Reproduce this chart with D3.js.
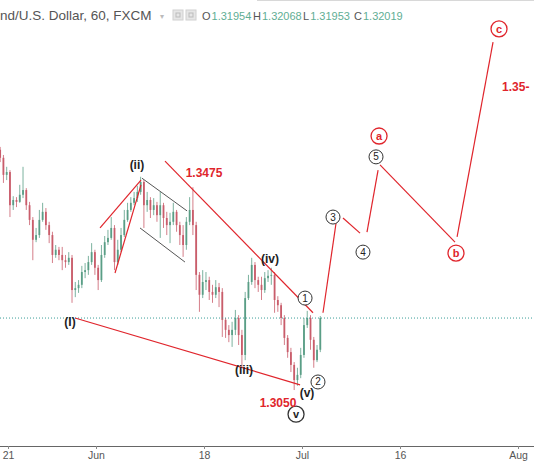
<!DOCTYPE html>
<html><head><meta charset="utf-8">
<script src="https://cdn.jsdelivr.net/npm/d3@7"></script>
<style>html,body{margin:0;padding:0;background:#fff;overflow:hidden}</style>
</head><body>
<svg id="c" width="534" height="462"></svg>
<script>
// ---- axis categories (trading-day index) ----
const tickLabels = ["21", "Jun", "18", "Jul", "16", "Aug"];
const tickDays   = [0, 9, 20, 30, 40, 52];

// ---- 8-hour candles: closes, highs, lows (open = previous close) ----
const firstOpen = 1.3557;
const closes = [
 1.3540,1.3504,1.3510,1.3440,1.3451,1.3447,1.3462,1.3472,1.3440,1.3409,
 1.3367,1.3377,1.3409,1.3426,1.3398,1.3377,1.3335,1.3346,1.3335,1.3324,
 1.3320,1.3329,1.3261,1.3265,1.3272,1.3299,1.3303,1.3320,1.3341,1.3308,
 1.3282,1.3335,1.3362,1.3371,1.3392,1.3320,1.3346,1.3377,1.3409,1.3430,
 1.3445,1.3455,1.3468,1.3489,1.3440,1.3451,1.3430,1.3440,1.3419,1.3440,
 1.3413,1.3398,1.3405,1.3426,1.3398,1.3377,1.3356,1.3405,1.3430,1.3398,
 1.3293,1.3251,1.3278,1.3282,1.3257,1.3251,1.3267,1.3257,1.3198,1.3177,
 1.3166,1.3177,1.3202,1.3166,1.3124,1.3244,1.3278,1.3314,1.3282,1.3272,
 1.3261,1.3286,1.3291,1.3293,1.3240,1.3229,1.3202,1.3160,1.3130,1.3103,
 1.3071,1.3082,1.3124,1.3187,1.3202,1.3156,1.3113,1.3135,1.32019];
const highs = [
 1.3563,1.3546,1.3521,1.3514,1.3459,1.3457,1.3483,1.3521,1.3476,1.3447,
 1.3415,1.3392,1.3430,1.3445,1.3434,1.3405,1.3384,1.3356,1.3352,1.3352,
 1.3335,1.3341,1.3335,1.3278,1.3282,1.3312,1.3318,1.3333,1.3360,1.3346,
 1.3314,1.3356,1.3375,1.3388,1.3415,1.3398,1.3367,1.3392,1.3430,1.3445,
 1.3457,1.3468,1.3481,1.3500,1.3493,1.3468,1.3457,1.3455,1.3447,1.3468,
 1.3445,1.3426,1.3424,1.3445,1.3430,1.3405,1.3398,1.3415,1.3457,1.3478,
 1.3405,1.3299,1.3303,1.3299,1.3289,1.3272,1.3282,1.3276,1.3265,1.3202,
 1.3187,1.3194,1.3219,1.3208,1.3177,1.3257,1.3293,1.3329,1.3320,1.3289,
 1.3289,1.3299,1.3303,1.3308,1.3299,1.3248,1.3234,1.3208,1.3166,1.3139,
 1.3109,1.3097,1.3139,1.3202,1.3217,1.3208,1.3162,1.3145,1.3206];
const lows = [
 1.3531,1.3487,1.3493,1.3415,1.3430,1.3436,1.3445,1.3455,1.3430,1.3398,
 1.3324,1.3362,1.3371,1.3405,1.3388,1.3360,1.3318,1.3329,1.3324,1.3303,
 1.3308,1.3314,1.3234,1.3246,1.3255,1.3265,1.3286,1.3293,1.3314,1.3293,
 1.3261,1.3278,1.3329,1.3356,1.3367,1.3303,1.3314,1.3341,1.3373,1.3405,
 1.3426,1.3440,1.3447,1.3462,1.3392,1.3426,1.3413,1.3419,1.3405,1.3371,
 1.3392,1.3377,1.3360,1.3398,1.3384,1.3356,1.3331,1.3346,1.3398,1.3377,
 1.3261,1.3215,1.3244,1.3261,1.3240,1.3234,1.3244,1.3225,1.3162,1.3160,
 1.3151,1.3141,1.3166,1.3145,1.3099,1.3113,1.3240,1.3272,1.3265,1.3257,
 1.3240,1.3255,1.3278,1.3272,1.3213,1.3215,1.3187,1.3145,1.3118,1.3088,
 1.3050,1.3059,1.3075,1.3118,1.3181,1.3135,1.3097,1.3109,1.3130];
const firstBarDay = -0.8;   // trading-day index of first candle
const barsPerDay = 3;
const lastPrice = 1.32019;

// ---- header ----
const title = "nd/U.S. Dollar, 60, FXCM";
const ohlcLabels = ["O", "H", "L", "C"];
const ohlcValues = ["1.31954", "1.32068", "1.31953", "1.32019"];

// ---- annotations: [day, price] ----
const redLines = [
 [[6.84, 1.3202], [29.80, 1.3061]],
 [[16.02, 1.3533], [31.12, 1.3213]],
 [[9.39, 1.3392], [13.57, 1.3493]],
 [[10.92, 1.3297], [13.57, 1.3483]],
 [[32.14, 1.3213], [33.47, 1.3402]],
 [[34.18, 1.3413], [35.92, 1.3381]],
 [[36.63, 1.3383], [37.76, 1.3514]],
 [[37.96, 1.3525], [45.61, 1.3362]],
 [[45.82, 1.3373], [49.49, 1.3784]]
];
const grayLines = [
 [[13.67, 1.3497], [18.27, 1.3428]],
 [[13.47, 1.3392], [18.06, 1.3320]]
];
const waveLabels = [
 {t: "(ii)",  d: 13.16, p: 1.3525},
 {t: "(iv)",  d: 26.73, p: 1.3326},
 {t: "(iii)", d: 24.08, p: 1.3092},
 {t: "(v)",   d: 30.51, p: 1.3044},
 {t: "(I)",   d: 6.33,  p: 1.3194}
];
const circleLabels = [
 {t: "1", d: 30.31, p: 1.3244, red: false, big: false},
 {t: "2", d: 31.63, p: 1.3067, red: false, big: false},
 {t: "v", d: 29.39, p: 1.2999, red: false, big: true},
 {t: "3", d: 33.16, p: 1.3415, red: false, big: false},
 {t: "4", d: 36.22, p: 1.3341, red: false, big: false},
 {t: "5", d: 37.55, p: 1.3542, red: false, big: false},
 {t: "a", d: 37.86, p: 1.3586, red: true,  big: true},
 {t: "b", d: 45.71, p: 1.3339, red: true,  big: true},
 {t: "c", d: 50.10, p: 1.3812, red: true,  big: true}
];
const priceTags = [
 {t: "1.3475", d: 20.00, p: 1.3508, anchor: "middle"},
 {t: "1.3050", d: 27.55, p: 1.3023, anchor: "middle"},
 {t: "1.35-",  d: 50.41, p: 1.3689, anchor: "start"}
];

// ---- drawing ----
const W = 534, H = 462, axisY = 446;
const svg = d3.select("#c");
const x = d3.scaleLinear().domain([-0.816, 53.67]).range([0, W]);
const y = d3.scaleLinear().domain([1.29319, 1.3873]).range([axisY, 0]);
const RED = "#e0252c", UP = "#5a9e86", DOWN = "#c95d6b";
const FONT = "Liberation Sans, Arial, sans-serif";

// top border
svg.append("line").attr("x1", 257).attr("x2", W).attr("y1", 0.5).attr("y2", 0.5)
  .attr("stroke", "#d8d8d8").attr("stroke-width", 1);

// header
svg.append("text").attr("x", 0).attr("y", 20).text(title)
  .attr("font-family", FONT).attr("font-size", 13.5).attr("fill", "#555");
svg.append("text").attr("x", 160).attr("y", 19).text("▾")
  .attr("font-family", "DejaVu Sans, sans-serif").attr("font-size", 8).attr("fill", "#bbb");
[173, 186].forEach(bx => {
  svg.append("rect").attr("x", bx).attr("y", 10).attr("width", 10).attr("height", 10)
    .attr("fill", "#e6e6e6").attr("stroke", "#d0d0d0");
  svg.append("rect").attr("x", bx + 3).attr("y", 13).attr("width", 4).attr("height", 4)
    .attr("fill", "none").attr("stroke", "#bbb");
});
const ohlcX = [202, 253, 303, 354];
ohlcLabels.forEach((l, i) => {
  const t = svg.append("text").attr("x", ohlcX[i]).attr("y", 20)
    .attr("font-family", FONT).attr("font-size", 11);
  t.append("tspan").text(l).attr("fill", "#555");
  t.append("tspan").text(ohlcValues[i]).attr("fill", "#5fae94").attr("dx", 1);
});

// candles
const bars = closes.map((c, i) => ({
  d: firstBarDay + i / barsPerDay,
  o: i === 0 ? firstOpen : closes[i - 1],
  h: highs[i], l: lows[i], c: c
}));
const bw = 1.8;
const g = svg.append("g");
g.selectAll("line.w").data(bars).join("line").attr("class", "w")
  .attr("x1", b => x(b.d)).attr("x2", b => x(b.d))
  .attr("y1", b => y(b.h)).attr("y2", b => y(b.l))
  .attr("stroke", b => b.c >= b.o ? UP : DOWN).attr("stroke-width", 0.8);
g.selectAll("rect").data(bars).join("rect")
  .attr("x", b => x(b.d) - bw / 2).attr("width", bw)
  .attr("y", b => y(Math.max(b.o, b.c)))
  .attr("height", b => Math.max(0.8, Math.abs(y(b.o) - y(b.c))))
  .attr("fill", b => b.c >= b.o ? UP : DOWN);

// last price dotted line
svg.append("line").attr("x1", 0).attr("x2", W).attr("y1", y(lastPrice)).attr("y2", y(lastPrice))
  .attr("stroke", "#3a9e98").attr("stroke-width", 1).attr("stroke-dasharray", "1,2");

// annotation lines
const lineGen = d3.line().x(p => x(p[0])).y(p => y(p[1]));
svg.selectAll("path.gray").data(grayLines).join("path").attr("class", "gray")
  .attr("d", lineGen).attr("stroke", "#555").attr("stroke-width", 1).attr("fill", "none");
svg.selectAll("path.red").data(redLines).join("path").attr("class", "red")
  .attr("d", lineGen).attr("stroke", RED).attr("stroke-width", 1.2).attr("fill", "none");

// wave labels
svg.selectAll("text.wave").data(waveLabels).join("text").attr("class", "wave")
  .attr("x", d => x(d.d)).attr("y", d => y(d.p)).attr("dy", "0.35em")
  .attr("text-anchor", "middle").text(d => d.t)
  .attr("font-family", FONT).attr("font-weight", "bold")
  .attr("font-size", 12).attr("fill", "#222");

// circle labels
const cg = svg.selectAll("g.circ").data(circleLabels).join("g").attr("class", "circ")
  .attr("transform", d => `translate(${x(d.d)},${y(d.p)})`);
cg.append("circle").attr("r", d => d.big ? 8 : 7).attr("fill", "#fff")
  .attr("stroke", d => d.red ? RED : "#333").attr("stroke-width", d => d.big ? 1.3 : 1);
cg.append("text").attr("text-anchor", "middle").attr("dy", "0.35em").text(d => d.t)
  .attr("font-family", FONT)
  .attr("font-weight", d => d.big ? "bold" : "normal")
  .attr("font-size", d => d.big ? 11 : 10)
  .attr("fill", d => d.red ? RED : "#222");

// price tags
svg.selectAll("text.tag").data(priceTags).join("text").attr("class", "tag")
  .attr("x", d => x(d.d)).attr("y", d => y(d.p)).attr("dy", "0.35em")
  .attr("text-anchor", d => d.anchor).text(d => d.t)
  .attr("font-family", FONT).attr("font-weight", "bold")
  .attr("font-size", 12).attr("fill", RED);

// time axis
svg.append("line").attr("x1", 0).attr("x2", W).attr("y1", axisY + 0.5).attr("y2", axisY + 0.5)
  .attr("stroke", "#666").attr("stroke-width", 1);
const tg = svg.selectAll("g.tick").data(tickDays).join("g").attr("class", "tick")
  .attr("transform", d => `translate(${Math.round(x(d)) + 0.5},${axisY})`);
tg.append("line").attr("y1", 0).attr("y2", 3).attr("stroke", "#888");
tg.append("text").attr("y", 13).attr("text-anchor", "middle").text((d, i) => tickLabels[i])
  .attr("font-family", FONT).attr("font-size", 10.5).attr("fill", "#555");
</script>
</body></html>
